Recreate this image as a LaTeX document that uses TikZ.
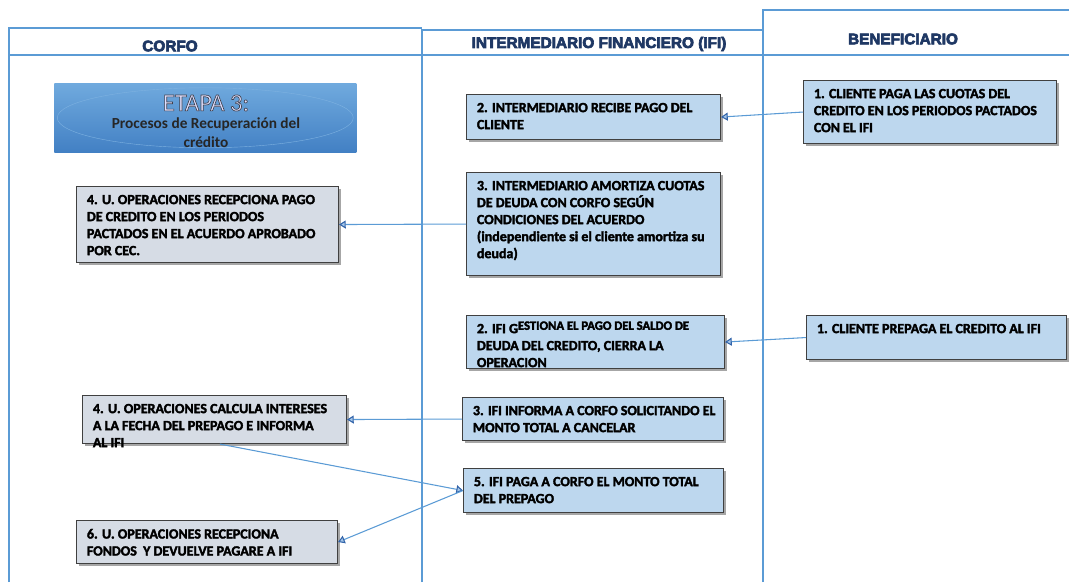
\documentclass[tikz,border=0pt]{standalone}
\usepackage{fontspec}
\setmainfont{Carlito}
\newfontfamily\hdfont{Liberation Sans}
\usetikzlibrary{positioning,shadows,arrows.meta,calc}

\definecolor{lanecol}{RGB}{91,155,213}
\definecolor{ifiblue}{RGB}{189,215,238}
\definecolor{corfogray}{RGB}{214,220,229}
\definecolor{hdblue}{RGB}{31,56,100}
\definecolor{tipfill}{RGB}{165,198,232}
\definecolor{tipline}{RGB}{50,100,170}
\definecolor{etapatop}{RGB}{112,170,222}
\definecolor{etapabot}{RGB}{66,128,196}

% heavier text: fill and stroke
\newcommand\thicktext[2]{\special{pdf:literal direct 2 Tr #1 w}#2\special{pdf:literal direct 0 Tr}}

\tikzset{
  lane/.style={draw=lanecol, line width=1.1pt},
  flowbox/.style={draw=black!75, line width=0.8pt, anchor=north west, inner sep=0pt,
    drop shadow={shadow xshift=1.5pt, shadow yshift=-1.5pt, fill=black!35, opacity=1}},
  boxtext/.style={anchor=north west, align=left, inner sep=0pt,
    font=\bfseries\fontsize{10.5}{12.75}\selectfont},
  lanetitle/.style={font=\hdfont\bfseries\fontsize{11.5}{14}\selectfont, text=hdblue},
  flow/.style={draw=lanecol, line width=0.8pt,
    -{Triangle[length=5pt, width=6pt, color=tipline, fill=tipfill]}}
}

\begin{document}
\begin{tikzpicture}[x=0.75pt, y=-0.75pt]
  \useasboundingbox (0,0) rectangle (1069,582);

 %lanes
  \draw[lane] (9,582) -- (9,28) -- (422,28);
  \draw[lane] (422,582) -- (422,30) -- (763,30);
  \draw[lane] (763,582) -- (763,10) -- (1069,10);
  \draw[lane] (9,55) -- (1069,55);

  \node[lanetitle] (corfo) at (170,46) {\thicktext{0.5}{CORFO}};
  \node[lanetitle] (ifi) at (599,44) {\thicktext{0.5}{INTERMEDIARIO FINANCIERO (IFI)}};
  \node[lanetitle] (benef) at (903,39) {\thicktext{0.5}{BENEFICIARIO}};

 %etapa
  \node[anchor=north west, inner sep=0pt, minimum width=226.5pt, minimum height=51.75pt,
        top color=etapatop, bottom color=etapabot] (etapa) at (54,83) {};
  \draw[draw=etapatop!90!white, line width=0.3pt] (etapa.center) ellipse (148 and 30);
  \node[font=\fontsize{18.5}{19}\selectfont, inner sep=0pt] (etapa1) at (206,103)
    {\color{white!88!blue}\special{pdf:literal direct 2 Tr 0.5 w 0.25 0.25 0.3 RG}ETAPA 3:\special{pdf:literal direct 0 Tr}};
  \node[font=\bfseries\fontsize{11.5}{14}\selectfont, align=center, inner sep=0pt,
        text=black!85] (etapa2) at (206,133) {Procesos de Recuperación del\\crédito};

 %boxes
  \foreach \name/\fc/\x/\y/\w/\h/\txt in {
     b1/ifiblue/803/80/253/63/{1. CLIENTE PAGA LAS CUOTAS DEL\\CREDITO EN LOS PERIODOS PACTADOS\\CON EL IFI},
     b2/ifiblue/466/94/254/45/{2. INTERMEDIARIO RECIBE PAGO DEL\\CLIENTE},
     c3/ifiblue/466/172/254/103/{3. INTERMEDIARIO AMORTIZA CUOTAS\\DE DEUDA CON CORFO SEGÚN\\CONDICIONES DEL ACUERDO\\(independiente si el cliente amortiza su\\deuda)},
     c4/corfogray/76/186/262/76/{4. U. OPERACIONES RECEPCIONA PAGO\\DE CREDITO EN LOS PERIODOS\\PACTADOS EN EL ACUERDO APROBADO\\POR CEC.},
     d1/ifiblue/806/315/260/44/{1. CLIENTE PREPAGA EL CREDITO AL IFI},
     d2/ifiblue/466/315/258/53/{2. IFI G\smash{\raisebox{2.5pt}{\fontsize{9.5}{10}\selectfont ESTIONA EL PAGO DEL SALDO DE}}\\DEUDA DEL CREDITO, CIERRA LA\\OPERACION},
     e3/ifiblue/462/397/261/43/{3. IFI INFORMA A CORFO SOLICITANDO EL\\MONTO TOTAL A CANCELAR},
     e4/corfogray/82/395/264/48/{4. U. OPERACIONES CALCULA INTERESES\\A LA FECHA DEL PREPAGO E INFORMA\\AL IFI},
     f5/ifiblue/463/468/260/44/{5. IFI PAGA A CORFO EL MONTO TOTAL\\DEL PREPAGO},
     f6/corfogray/76/520/261/43/{6. U. OPERACIONES RECEPCIONA\\FONDOS~ Y DEVUELVE PAGARE A IFI}} {
    \pgfmathsetmacro\bw{\w*0.75}
    \pgfmathsetmacro\bh{\h*0.75}
    \node[flowbox, fill=\fc, minimum width=\bw pt, minimum height=\bh pt] (\name) at (\x,\y) {};
    \node[boxtext] (\name t) at ([xshift=8pt, yshift=-6.5pt]\name.north west) {\thicktext{0.25}{\txt}};
  }

 %arrows
  \draw[flow] (b1.west) -- (b2.east);
  \draw[flow] (c3.west) -- (c4.east);
  \draw[flow] (d1.west) -- (d2.east);
  \draw[flow] (e3.west) -- (e4.east);
  \draw[flow] ([xshift=4pt]e4.south) -- (f5.west);
  \draw[flow] (f5.west) -- (f6.east);
\end{tikzpicture}
\end{document}
